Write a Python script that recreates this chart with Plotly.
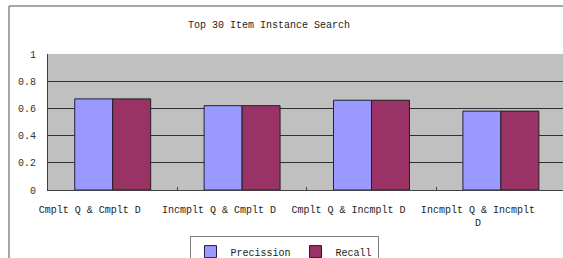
import plotly.graph_objects as go

categories = ["Cmplt Q & Cmplt D", "Incmplt Q & Cmplt D", "Cmplt Q & Incmplt D", "Incmplt Q & Incmplt<br>D"]
precision = [0.67, 0.62, 0.66, 0.58]
recall = [0.67, 0.62, 0.66, 0.58]
y_ticks = [0, 0.2, 0.4, 0.6, 0.8, 1]
y_tick_labels = ["0", "0.2", "0.4", "0.6", "0.8", "1"]

FONT = "Liberation Mono, DejaVu Sans Mono, monospace"

W, H = 563, 258
L, T, B = 48, 54, 68
plot_w = W - L
plot_h = H - T - B

fig = go.Figure()
fig.add_trace(go.Bar(x=categories, y=precision, name="Precission",
                     marker=dict(color="#9999FF", line=dict(color="#202040", width=1))))
fig.add_trace(go.Bar(x=categories, y=recall, name="Recall",
                     marker=dict(color="#993366", line=dict(color="#202020", width=1))))

fig.update_layout(
    width=W, height=H,
    margin=dict(l=L, r=0, t=T, b=B, autoexpand=False),
    paper_bgcolor="white", plot_bgcolor="#C0C0C0",
    font=dict(family=FONT, size=10, color="#222"),
    barmode="group", bargap=0.413, bargroupgap=0,
    title=dict(text="Top 30 Item Instance Search", x=269 / W, xanchor="center",
               y=1 - 24 / H, yanchor="middle", font=dict(family=FONT, size=10, color="#222")),
    showlegend=True,
    legend=dict(orientation="h", x=(284 - L) / plot_w, xanchor="center", y=-0.339, yanchor="top",
                bordercolor="#808080", borderwidth=1, bgcolor="white",
                font=dict(family=FONT, size=10, color="#222"),
                itemwidth=30),
)

fig.update_xaxes(
    type="category", range=[-0.5, 3.48], automargin=False,
    showgrid=False, showline=True, linecolor="#404040", linewidth=1,
    ticks="inside", tickson="boundaries", ticklen=3, tickcolor="#404040",
    ticklabelstandoff=10, ticklabelshift=-23,
    tickfont=dict(family=FONT, size=10, color="#222"),
)
fig.update_yaxes(
    range=[0, 1], tickvals=y_ticks, ticktext=y_tick_labels, automargin=False,
    showgrid=True, gridcolor="#303030", gridwidth=1,
    showline=True, linecolor="#404040", linewidth=1,
    zeroline=False, ticks="outside", ticklen=9, tickcolor="rgba(255,255,255,0)",
    tickfont=dict(family=FONT, size=10, color="#333"),
)

# outer chart border (left and top edges visible)
bx = (9 - L) / plot_w
by = 1 + (T - 6) / plot_h
fig.add_shape(type="line", xref="paper", yref="paper",
              x0=bx, x1=bx, y0=-1.0, y1=by, line=dict(color="#8a8a8a", width=1.5))
fig.add_shape(type="line", xref="paper", yref="paper",
              x0=bx, x1=1.1, y0=by, y1=by, line=dict(color="#8a8a8a", width=1.5))

fig.write_html(
    "out.html",
    config={"displayModeBar": False},
    default_width="563px", default_height="258px",
    post_script="document.body.style.margin='0';document.body.style.overflow='hidden';",
)
